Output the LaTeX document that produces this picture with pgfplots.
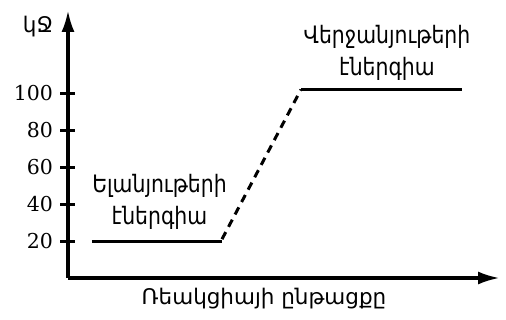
\documentclass[border=0pt]{standalone}
\usepackage{fontspec}
\setmainfont{DejaVu Serif}
\newfontfamily\armfont[FakeStretch=0.85]{DejaVu Sans}
\newfontfamily\armfontw{DejaVu Sans}
\usepackage{pgfplots}
\pgfplotsset{compat=1.18}
\usetikzlibrary{arrows.meta}
\begin{document}
\begin{tikzpicture}
\begin{axis}[
  scale only axis, width=432pt, height=268pt,
  xmin=0, xmax=432, ymin=0, ymax=145,
  axis lines=left,
  axis line style={line width=3.4pt, -{Latex[length=22pt,width=13pt]}},
  xtick=\empty,
  ytick={20,40,60,80,100},
  tick align=center, major tick length=15pt,
  tick style={line width=3pt, black},
  yticklabel style={font=\fontsize{20.5}{24}\selectfont, xshift=-4pt},
  /pgf/number format/assume math mode=true,
  clip=false,
]
\addplot[line width=3pt] coordinates {(24,20) (154,20)};
\addplot[line width=3pt, dash pattern=on 8pt off 6pt] coordinates {(154,21) (233,102)};
\addplot[line width=3pt] coordinates {(233,102) (394,102)};
\node[align=center, font=\armfont\fontsize{24}{32}\selectfont] at (axis cs:91.5,41) {Ելանյութերի\\էներգիա};
\node[align=center, font=\armfont\fontsize{24}{32}\selectfont] at (axis cs:319,122) {Վերջանյութերի\\էներգիա};
\node[font=\armfontw\fontsize{21.5}{24}\selectfont] at (axis cs:-30,136) {կՋ};
\node[font=\armfontw\fontsize{21.5}{24}\selectfont] at (axis cs:196,-11.4) {Ռեակցիայի ընթացքը};
\end{axis}
\pgfresetboundingbox
\path (-68pt,-42pt) rectangle (438pt,278pt);
\end{tikzpicture}
\end{document}
